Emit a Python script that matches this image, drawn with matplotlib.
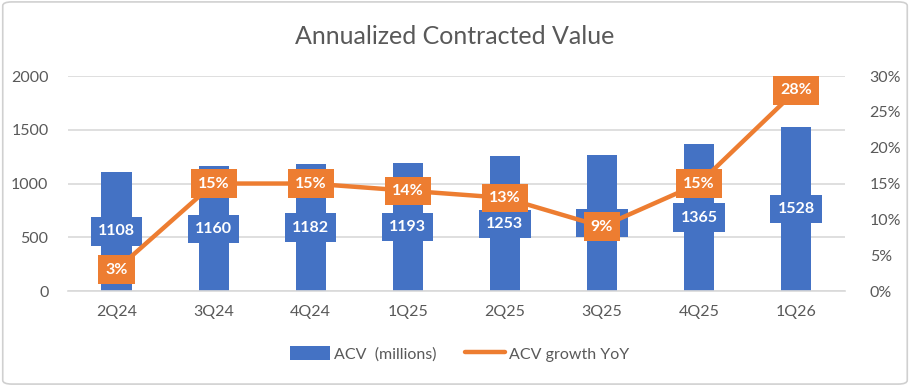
import matplotlib
matplotlib.use("Agg")
import matplotlib.pyplot as plt
from matplotlib.patches import FancyBboxPatch
from matplotlib.lines import Line2D
from matplotlib.patches import Patch

quarters = ["2Q24", "3Q24", "4Q24", "1Q25", "2Q25", "3Q25", "4Q25", "1Q26"]
acv = [1108, 1160, 1182, 1193, 1253, 1270, 1365, 1528]
growth = [3, 15, 15, 14, 13, 9, 15, 28]

BLUE = "#4472C4"
ORANGE = "#ED7D31"
GRAY = "#595959"
GRID = "#D9D9D9"

plt.rcParams['font.family'] = ['Lato', 'DejaVu Sans']

fig = plt.figure(figsize=(9.1, 3.86), dpi=100)
bg = FancyBboxPatch((0.003, 0.005), 0.994, 0.99, boxstyle="round,pad=0,rounding_size=0.01",
                    transform=fig.transFigure, facecolor="white", edgecolor="#D0D0D0", lw=1.2, zorder=-10)
fig.patches.append(bg)
ax = fig.add_axes([0.0747, 0.246, 0.8535, 0.557])
ax.set_facecolor("none")
x = list(range(len(quarters)))
ax.bar(x, acv, width=0.31, color=BLUE, zorder=2)
ax.set_ylim(0, 2000)
ax.set_xlim(-0.5, len(quarters) - 0.5)
ax.set_yticks([0, 500, 1000, 1500, 2000])
ax.set_xticks(x)
ax.set_xticklabels(quarters)
ax.grid(axis='y', color=GRID, lw=1.2, zorder=0)
ax.set_axisbelow(True)
for s in ax.spines.values():
    s.set_visible(False)
ax.spines['bottom'].set_visible(True)
ax.spines['bottom'].set_color(GRID)
ax.spines['bottom'].set_linewidth(1.2)
ax.tick_params(axis='both', length=0, labelsize=11.5, colors=GRAY, pad=14)
ax.tick_params(axis='x', pad=10)
for xi, v in zip(x, acv):
    ax.text(xi, v / 2, f"{v}", ha='center', va='center', color='white', fontsize=11.5, fontweight='bold',
            bbox=dict(boxstyle='square,pad=0.45', facecolor=BLUE, edgecolor='none'), zorder=3)

ax2 = ax.twinx()
ax2.set_ylim(0, 30)
ax2.set_yticks([0, 5, 10, 15, 20, 25, 30])
ax2.set_yticklabels([f"{t}%" for t in [0, 5, 10, 15, 20, 25, 30]])
for s in ax2.spines.values():
    s.set_visible(False)
ax2.tick_params(axis='y', length=0, labelsize=11.5, colors=GRAY, pad=18)
ax2.plot(x, growth, color=ORANGE, lw=3.2, solid_capstyle='round', zorder=2)
for xi, g in zip(x, growth):
    ax2.text(xi, g, f"{g}%", ha='center', va='center', color='white', fontsize=11.5, fontweight='bold',
             bbox=dict(boxstyle='square,pad=0.45', facecolor=ORANGE, edgecolor='none'), zorder=3)

fig.text(0.5, 0.905, "Annualized Contracted Value", ha='center', va='center', fontsize=18, color=GRAY)

handles = [Patch(facecolor=BLUE, edgecolor='none'), Line2D([0], [0], color=ORANGE, lw=3.2, solid_capstyle='round')]
fig.legend(handles, ["ACV  (millions)", "ACV growth YoY"], loc='center', bbox_to_anchor=(0.505, 0.083), ncol=2,
           frameon=False, fontsize=11.5, labelcolor=GRAY, handlelength=2.5, handleheight=0.9,
           handletextpad=0.25, columnspacing=1.8)

fig.savefig("out.png", dpi=100)
